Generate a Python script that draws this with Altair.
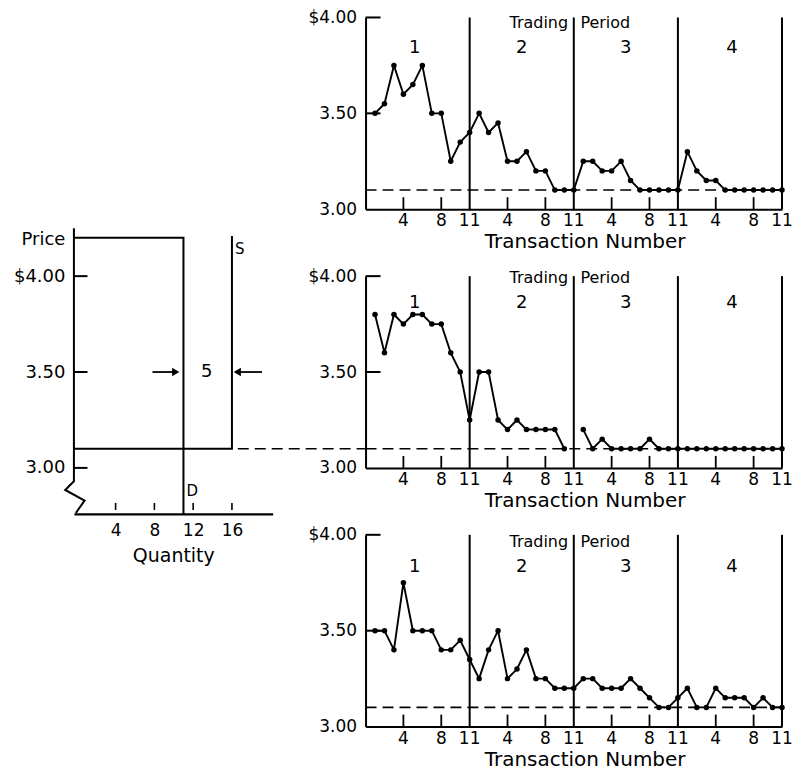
import altair as alt
import pandas as pd

FONT = "DejaVu Sans"

# ---------------- data ----------------
# transaction prices, one list per trading period (11 transactions each)
top_p1 = [3.50, 3.55, 3.75, 3.60, 3.65, 3.75, 3.50, 3.50, 3.25, 3.35, 3.40]
top_p2 = [3.50, 3.40, 3.45, 3.25, 3.25, 3.30, 3.20, 3.20, 3.10, 3.10, 3.10]
top_p3 = [3.25, 3.25, 3.20, 3.20, 3.25, 3.15, 3.10, 3.10, 3.10, 3.10, 3.10]
top_p4 = [3.30, 3.20, 3.15, 3.15, 3.10, 3.10, 3.10, 3.10, 3.10, 3.10, 3.10]

mid_p1 = [3.80, 3.60, 3.80, 3.75, 3.80, 3.80, 3.75, 3.75, 3.60, 3.50, 3.25]
mid_p2 = [3.50, 3.50, 3.25, 3.20, 3.25, 3.20, 3.20, 3.20, 3.20, 3.10]
mid_p3 = [3.20, 3.10, 3.15, 3.10, 3.10, 3.10, 3.10, 3.15, 3.10, 3.10, 3.10]
mid_p4 = [3.10, 3.10, 3.10, 3.10, 3.10, 3.10, 3.10, 3.10, 3.10, 3.10, 3.10]

bot_p1 = [3.50, 3.50, 3.40, 3.75, 3.50, 3.50, 3.50, 3.40, 3.40, 3.45, 3.35]
bot_p2 = [3.25, 3.40, 3.50, 3.25, 3.30, 3.40, 3.25, 3.25, 3.20, 3.20, 3.20]
bot_p3 = [3.25, 3.25, 3.20, 3.20, 3.20, 3.25, 3.20, 3.15, 3.10, 3.10, 3.15]
bot_p4 = [3.20, 3.10, 3.10, 3.20, 3.15, 3.15, 3.15, 3.10, 3.15, 3.10, 3.10]

equilibrium_price = 3.10
period_labels = ["1", "2", "3", "4"]
period_label_x = [5.2, 16.5, 27.5, 38.7]
x_tick_values = [4, 8, 11, 15, 19, 22, 26, 30, 33, 37, 41, 44]
x_tick_labels = ["4", "8", "11", "4", "8", "11", "4", "8", "11", "4", "8", "11"]
x_inner_ticks = [4, 8, 15, 19, 26, 30, 37, 41]
period_dividers = [11, 22, 33, 44]
x_title = "Transaction Number"

# supply & demand diagram
demand_q = [-0.3, 11, 11]
demand_p = [4.20, 4.20, 2.76]
supply_q = [-0.3, 16, 16]
supply_p = [3.10, 3.10, 4.21]
price_axis_q = [-0.3, -0.3, -1.2, 0.8, -0.1]
price_axis_p = [4.25, 2.93, 2.885, 2.83, 2.765]
quantity_ticks = [4, 8, 12, 16]
price_ticks = [3.0, 3.5, 4.0]
excess_supply = "5"

# ---------------- layout constants ----------------
PX = 192            # pixels per dollar
W, H = 417, PX      # right panels
VSP = 67            # vertical spacing between right panels
HSP = 93            # spacing between left diagram and right column
LW = 199
Q_MIN, Q_MAX = -0.3, 20.2
P_MIN = 2.76
P_TOP = 4 + (H + VSP) / PX
LH = (P_TOP - P_MIN) * PX
Q_CONNECT = Q_MIN + (LW + HSP) / (LW / (Q_MAX - Q_MIN))

xs = alt.Scale(domain=[0, 44], nice=False, zero=False)
ys = alt.Scale(domain=[3, 4], nice=False, zero=False)
NOVIEW = alt.ViewBackground(stroke="transparent", strokeWidth=0)


def panel_df(periods, breaks=()):
    rows = []
    seg = 0
    for k, vals in enumerate(periods, start=1):
        if k in breaks:
            seg += 1
        for t, p in enumerate(vals, start=1):
            rows.append({"x": (k - 1) * 11 + t, "price": p, "seg": seg})
    return pd.DataFrame(rows)


x_axis = alt.Axis(
    values=x_tick_values, labels=False, ticks=False, grid=False, domain=True,
    domainColor="black", domainWidth=2, title=None,
)
y_axis = alt.Axis(
    values=price_ticks,
    labelExpr="datum.value == 4 ? '$4.00' : format(datum.value, '.2f')",
    ticks=False, grid=False, domain=True, domainColor="black", domainWidth=2,
    labelFont=FONT, labelFontSize=17, labelColor="black", labelPadding=9,
    labelOverlap=False, labelFlush=False, title=None,
)


def panel(periods, breaks=(), text_y=3.97, num_y=3.84):
    df = panel_df(periods, breaks)
    base = alt.Chart(df)
    line = base.mark_line(color="black", strokeWidth=1.9).encode(
        x=alt.X("x:Q", scale=xs, axis=x_axis),
        y=alt.Y("price:Q", scale=ys, axis=y_axis),
        detail="seg:N",
    )
    pts = base.mark_circle(color="black", size=30, opacity=1).encode(
        x="x:Q", y="price:Q")
    div = alt.Chart(pd.DataFrame({"x": period_dividers})).mark_rule(
        color="black", strokeWidth=2).encode(
        x="x:Q", y=alt.datum(3), y2=alt.datum(4))
    eq = alt.Chart(pd.DataFrame({"price": [equilibrium_price]})).mark_rule(
        color="black", strokeWidth=1.6, strokeDash=[11, 6]).encode(
        x=alt.datum(0), x2=alt.datum(44), y="price:Q")
    yt = alt.Chart(pd.DataFrame({"price": [3.5, 4.0]})).mark_rule(
        color="black", strokeWidth=2).encode(
        y="price:Q", x=alt.value(0), x2=alt.value(15))
    xt = alt.Chart(pd.DataFrame({"x": x_inner_ticks})).mark_rule(
        color="black", strokeWidth=1.8).encode(
        x="x:Q", y=alt.value(H), y2=alt.value(H - 12))
    xl = alt.Chart(pd.DataFrame({"x": x_tick_values, "t": x_tick_labels})).mark_text(
        align="center", baseline="middle", font=FONT, fontSize=17, color="black").encode(
        x="x:Q", y=alt.value(H + 12), text="t:N")
    xtitle = alt.Chart(pd.DataFrame({"x": [23.2], "t": [x_title]})).mark_text(
        align="center", baseline="middle", font=FONT, fontSize=20, color="black").encode(
        x="x:Q", y=alt.value(H + 33), text="t:N")
    trading = alt.Chart(pd.DataFrame({"x": [21.4], "price": [text_y], "t": ["Trading"]})).mark_text(
        align="right", baseline="middle", font=FONT, fontSize=16, color="black").encode(
        x="x:Q", y="price:Q", text="t:N")
    period = alt.Chart(pd.DataFrame({"x": [22.7], "price": [text_y], "t": ["Period"]})).mark_text(
        align="left", baseline="middle", font=FONT, fontSize=16, color="black").encode(
        x="x:Q", y="price:Q", text="t:N")
    nums = alt.Chart(pd.DataFrame({"x": period_label_x, "price": [num_y] * 4, "t": period_labels})).mark_text(
        align="center", baseline="middle", font=FONT, fontSize=18, color="black").encode(
        x="x:Q", y="price:Q", text="t:N")
    return alt.layer(eq, div, xt, yt, line, pts, xl, xtitle, trading, period, nums).properties(
        width=W, height=H, view=NOVIEW)


top = panel([top_p1, top_p2, top_p3, top_p4])
mid = panel([mid_p1, mid_p2, mid_p3, mid_p4], breaks=(3,), text_y=3.99, num_y=3.86)
bot = panel([bot_p1, bot_p2, bot_p3, bot_p4], text_y=3.96, num_y=3.83)

# ---------------- supply / demand diagram ----------------
qs = alt.Scale(domain=[Q_MIN, Q_MAX], nice=False, zero=False)
ps = alt.Scale(domain=[P_MIN, P_TOP], nice=False, zero=False)

q_axis = alt.Axis(
    values=quantity_ticks, ticks=False, grid=False, domain=True,
    domainColor="black", domainWidth=2.2, labelFont=FONT, labelFontSize=17,
    labelColor="black", labelPadding=9, labelFlush=False, labelOverlap=False,
    title="Quantity", titleFont=FONT, titleFontSize=19, titleFontWeight="normal",
    titleColor="black", titlePadding=8,
)
p_axis = alt.Axis(
    values=[3.0, 3.5, 4.0, 4.19],
    labelExpr="datum.value > 4.1 ? 'Price' : (datum.value == 4 ? '$4.00' : format(datum.value, '.2f'))",
    ticks=False, grid=False, domain=False, labelFont=FONT, labelFontSize=18,
    labelColor="black", labelPadding=9, labelFlush=False, labelOverlap=False, title=None,
)

paxis_df = pd.DataFrame({"q": price_axis_q, "p": price_axis_p, "o": range(len(price_axis_q))})
paxis = alt.Chart(paxis_df).mark_line(color="black", strokeWidth=2).encode(
    x=alt.X("q:Q", scale=qs, axis=q_axis),
    y=alt.Y("p:Q", scale=ps, axis=p_axis),
    order="o:Q",
)
dem_df = pd.DataFrame({"q": demand_q, "p": demand_p, "o": range(3)})
demand = alt.Chart(dem_df).mark_line(color="black", strokeWidth=2).encode(
    x="q:Q", y="p:Q", order="o:Q")
sup_df = pd.DataFrame({"q": supply_q, "p": supply_p, "o": range(3)})
supply = alt.Chart(sup_df).mark_line(color="black", strokeWidth=2).encode(
    x="q:Q", y="p:Q", order="o:Q")
connector = alt.Chart(pd.DataFrame({"p": [equilibrium_price]})).mark_rule(
    color="black", strokeWidth=1.6, strokeDash=[11, 6]).encode(
    x=alt.datum(16.6), x2=alt.datum(Q_CONNECT), y="p:Q")
pticks = alt.Chart(pd.DataFrame({"p": price_ticks})).mark_rule(
    color="black", strokeWidth=2).encode(
    y="p:Q", x=alt.datum(Q_MIN), x2=alt.datum(1.1))
qticks = alt.Chart(pd.DataFrame({"q": quantity_ticks})).mark_rule(
    color="black", strokeWidth=1.6).encode(
    x="q:Q", y=alt.value(LH - 4), y2=alt.value(LH - 11))
arrows = alt.Chart(pd.DataFrame({"q": [7.8, 19.1], "q2": [10.3, 16.5], "p": [3.5, 3.5]})).mark_rule(
    color="black", strokeWidth=1.8).encode(x="q:Q", x2="q2:Q", y="p:Q")
head_r = alt.Chart(pd.DataFrame({"q": [10.2], "p": [3.5]})).mark_point(
    shape="triangle-right", filled=True, size=70, color="black", opacity=1).encode(x="q:Q", y="p:Q")
head_l = alt.Chart(pd.DataFrame({"q": [16.55], "p": [3.5]})).mark_point(
    shape="triangle-left", filled=True, size=70, color="black", opacity=1).encode(x="q:Q", y="p:Q")
ltext = alt.Chart(pd.DataFrame({
    "q": [13.4, 11.9, 16.8], "p": [3.5, 2.878, 4.14], "t": [excess_supply, "D", "S"],
    "s": [18, 15, 15]})).mark_text(font=FONT, color="black", align="center", baseline="middle").encode(
    x="q:Q", y="p:Q", text="t:N", size=alt.Size("s:Q", scale=None, legend=None))

left = alt.layer(paxis, demand, supply, connector, pticks, qticks, arrows, head_r, head_l, ltext).properties(
    width=LW, height=LH, view=NOVIEW)

right = alt.vconcat(top, mid, bot, spacing=VSP, bounds="flush")
chart = alt.hconcat(left, right, spacing=HSP, bounds="flush").properties(
    padding={"left": 5, "top": 0, "right": 0, "bottom": 0}, background="white"
).configure_view(stroke="transparent", strokeWidth=0)

chart.save("out.html", embed_options={"renderer": "svg", "actions": False})
